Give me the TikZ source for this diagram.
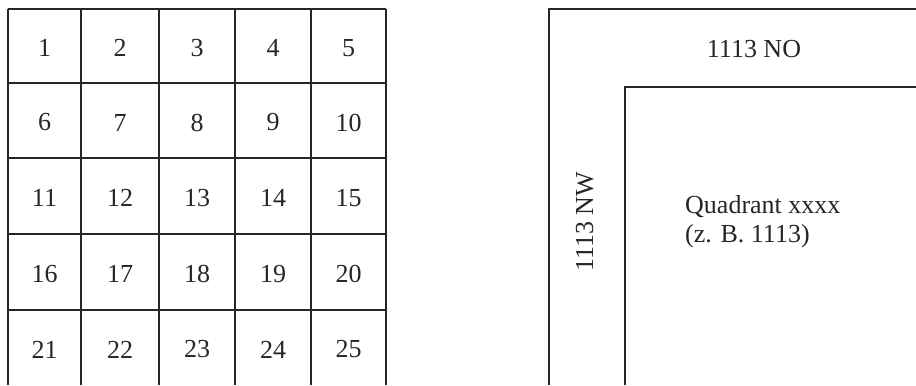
\documentclass[tikz,border=0pt]{standalone}
\usepackage{fontspec}
\setmainfont{Liberation Serif}
\begin{document}
\begin{tikzpicture}[x=1bp,y=-1bp,
  gridline/.style={line width=1.2bp, draw=black!85},
  numtext/.style={font=\fontsize{26bp}{30bp}\selectfont, inner sep=0pt, text=black!85},
  lbl/.style={font=\fontsize{26bp}{30bp}\selectfont, inner sep=0pt, text=black!85}]
\useasboundingbox (0,0) rectangle (916,385);
% grid
\foreach \x in {8,81,159,235,311,386} \draw[gridline] (\x,9) -- (\x,385);
\foreach \y in {9,83,158,234,310} \draw[gridline] (8,\y) -- (386,\y);
\def\cx{{44.5,120,197,273,348.5}}
\def\cy{{48,122.5,198,274,349.5}}
\foreach \r in {0,...,4}{
  \foreach \c in {0,...,4}{
    \pgfmathsetmacro{\n}{int(\r*5+\c+1)}
    \pgfmathsetmacro{\px}{\cx[\c]}
    \pgfmathsetmacro{\py}{\cy[\r]}
    \node[numtext] (n\n) at (\px,\py) {\n};
  }
}
% right part
\draw[gridline] (549,385) -- (549,9) -- (916,9);
\draw[gridline] (625,385) -- (625,87) -- (916,87);
\node[lbl, anchor=base] (no) at (754,57) {1113 NO};
\node[lbl, anchor=base, rotate=90] (nw) at (593,222) {1113 NW};
\node[lbl, anchor=base west] (q1) at (685,213) {Quadrant xxxx};
\node[lbl, anchor=base west] (q2) at (685,242) {(z. B. 1113)};
\end{tikzpicture}
\end{document}
